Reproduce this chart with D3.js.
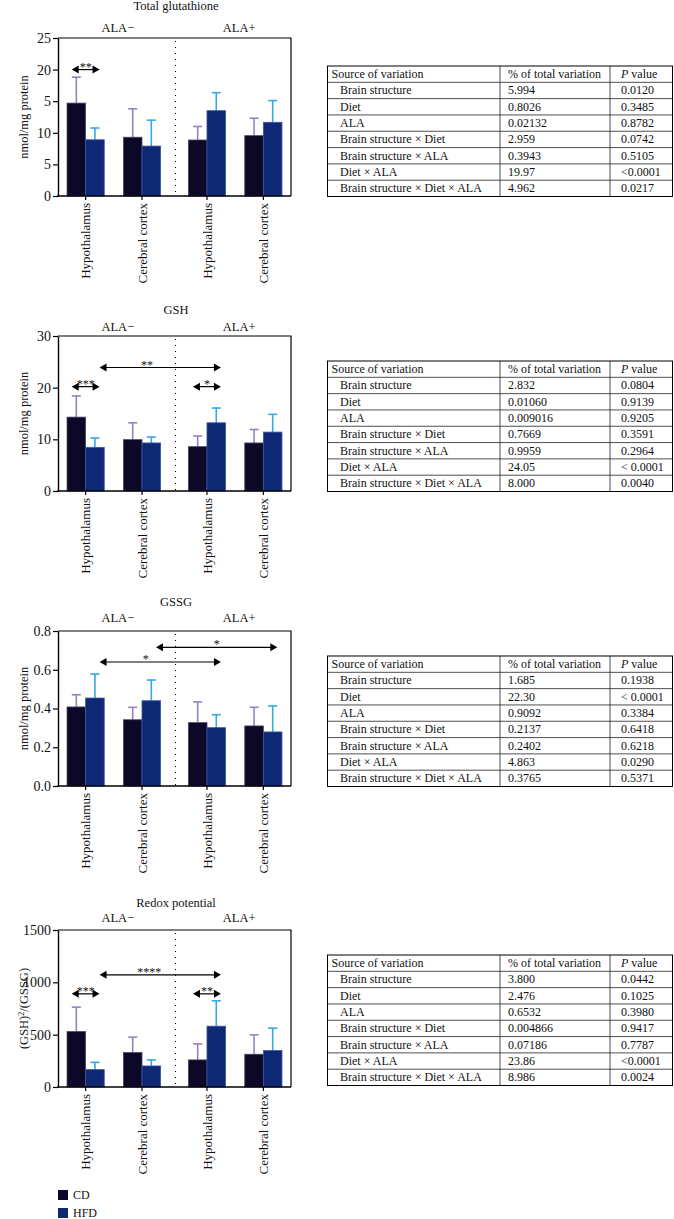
<!DOCTYPE html>
<html><head><meta charset="utf-8">
<script src="https://cdn.jsdelivr.net/npm/d3@7/dist/d3.min.js"></script>
<style>
body{margin:0;background:#fff}
svg{display:block}
text{font-family:"Liberation Serif","Times New Roman",serif;fill:#111}
</style>
</head><body>
<script>
// ---------- data ----------
const sections = ["ALA−", "ALA+"];
const structures = ["Hypothalamus", "Cerebral cortex"];
const series = ["CD", "HFD"];

// Total glutathione
const totalTitle = "Total glutathione";
const totalCD = [14.7, 9.3, 8.86, 9.55];
const totalCDsd = [4.1, 4.5, 2.14, 2.75];
const totalHFD = [8.9, 7.9, 13.5, 11.66];
const totalHFDsd = [1.86, 4.1, 2.85, 3.44];
const totalTicks = [0, 5, 10, 15, 20, 25];
const totalTickLabels = ["0", "5", "10", "5", "20", "25"];
const totalSig = [{from: 0, to: 0, y: 20, stars: "**", at: 0.5}];

// GSH
const gshTitle = "GSH";
const gshCD = [14.3, 9.94, 8.58, 9.3];
const gshCDsd = [4.1, 3.26, 2.07, 2.6];
const gshHFD = [8.45, 9.3, 13.2, 11.4];
const gshHFDsd = [1.81, 1.15, 2.86, 3.44];
const gshTicks = [0, 10, 20, 30];
const gshTickLabels = ["0", "10", "20", "30"];
const gshSig = [
  {from: 0, to: 0, y: 20.2, stars: "***", at: 0.5},
  {from: 0, to: 2, y: 23.9, stars: "**", at: 0.39},
  {from: 2, to: 2, y: 20.2, stars: "*", at: 0.5}
];

// GSSG
const gssgTitle = "GSSG";
const gssgCD = [0.408, 0.342, 0.327, 0.310];
const gssgCDsd = [0.063, 0.064, 0.107, 0.096];
const gssgHFD = [0.454, 0.440, 0.301, 0.279];
const gssgHFDsd = [0.124, 0.107, 0.067, 0.134];
const gssgTicks = [0, 0.2, 0.4, 0.6, 0.8];
const gssgTickLabels = ["0.0", "0.2", "0.4", "0.6", "0.8"];
const gssgSig = [
  {from: 0, to: 2, y: 0.64, stars: "*", at: 0.38},
  {from: 1, to: 3, y: 0.716, stars: "*", at: 0.5}
];

// Redox potential
const redoxTitle = "Redox potential";
const redoxCD = [530, 329, 259, 313];
const redoxCDsd = [233, 147, 153, 185];
const redoxHFD = [166, 201, 581, 348];
const redoxHFDsd = [70, 58, 242, 214];
const redoxTicks = [0, 500, 1000, 1500];
const redoxTickLabels = ["0", "500", "1000", "1500"];
const redoxSig = [
  {from: 0, to: 0, y: 890, stars: "***", at: 0.5},
  {from: 0, to: 2, y: 1072, stars: "****", at: 0.41},
  {from: 2, to: 2, y: 890, stars: "**", at: 0.5}
];

// Tables
const tableHeader = ["Source of variation", "% of total variation", "P value"];
const sources = ["Brain structure", "Diet", "ALA", "Brain structure × Diet", "Brain structure × ALA", "Diet × ALA", "Brain structure × Diet × ALA"];
const totalPct = ["5.994", "0.8026", "0.02132", "2.959", "0.3943", "19.97", "4.962"];
const totalP = ["0.0120", "0.3485", "0.8782", "0.0742", "0.5105", "<0.0001", "0.0217"];
const gshPct = ["2.832", "0.01060", "0.009016", "0.7669", "0.9959", "24.05", "8.000"];
const gshP = ["0.0804", "0.9139", "0.9205", "0.3591", "0.2964", "< 0.0001", "0.0040"];
const gssgPct = ["1.685", "22.30", "0.9092", "0.2137", "0.2402", "4.863", "0.3765"];
const gssgP = ["0.1938", "< 0.0001", "0.3384", "0.6418", "0.6218", "0.0290", "0.5371"];
const redoxPct = ["3.800", "2.476", "0.6532", "0.004866", "0.07186", "23.86", "8.986"];
const redoxP = ["0.0442", "0.1025", "0.3980", "0.9417", "0.7787", "<0.0001", "0.0024"];

// ---------- style / layout ----------
const colors = {CD: "#0c0928", HFD: "#0f2873"};
const strokes = {CD: "#4b4766", HFD: "#3b55a3"};
const errColors = {CD: "#9680bf", HFD: "#36a6ea"};

const W = 674, H = 1219;
const svg = d3.select("body").append("svg").attr("width", W).attr("height", H);

const X0 = 58, X1 = 291;
const outer = d3.scaleBand().domain(sections).range([X0, X1]).paddingInner(0.08).paddingOuter(0);
const inner = d3.scaleBand().domain(structures).range([0, outer.bandwidth()]).paddingInner(0.34).paddingOuter(0.16);
const sub = d3.scaleBand().domain(series).range([0, inner.bandwidth()]);
const groupLeft = i => outer(sections[Math.floor(i / 2)]) + inner(structures[i % 2]);
const groupCenter = i => groupLeft(i) + inner.bandwidth() / 2;
const groupLabels = [0, 1, 2, 3].map(i => structures[i % 2]);

const panels = [
  {title: totalTitle, cd: totalCD, cdSd: totalCDsd, hfd: totalHFD, hfdSd: totalHFDsd, ticks: totalTicks, labels: totalTickLabels, sig: totalSig, ylabel: "nmol/mg protein",
   top: 38, bottom: 196, titleY: 10, alaY: 32},
  {title: gshTitle, cd: gshCD, cdSd: gshCDsd, hfd: gshHFD, hfdSd: gshHFDsd, ticks: gshTicks, labels: gshTickLabels, sig: gshSig, ylabel: "nmol/mg protein",
   top: 336, bottom: 491, titleY: 314, alaY: 331},
  {title: gssgTitle, cd: gssgCD, cdSd: gssgCDsd, hfd: gssgHFD, hfdSd: gssgHFDsd, ticks: gssgTicks, labels: gssgTickLabels, sig: gssgSig, ylabel: "nmol/mg protein",
   top: 631, bottom: 786, titleY: 606, alaY: 622},
  {title: redoxTitle, cd: redoxCD, cdSd: redoxCDsd, hfd: redoxHFD, hfdSd: redoxHFDsd, ticks: redoxTicks, labels: redoxTickLabels, sig: redoxSig, ylabel: "redox",
   top: 930, bottom: 1087, titleY: 907, alaY: 922}
];

panels.forEach(p => {
  const g = svg.append("g");
  const ymax = p.ticks[p.ticks.length - 1];
  const y = d3.scaleLinear().domain([0, ymax]).range([p.bottom, p.top]);

  // titles
  g.append("text").attr("x", 176).attr("y", p.titleY).attr("text-anchor", "middle")
    .style("font-size", "12.5px").text(p.title);
  sections.forEach(s => {
    g.append("text").attr("x", outer(s) + outer.bandwidth() / 2 + 4).attr("y", p.alaY)
      .attr("text-anchor", "middle").style("font-size", "12.5px").text(s);
  });

  // frame (top/right)
  g.append("path").attr("d", `M${X0},${p.top}H${X1}V${p.bottom}`).attr("fill", "none")
    .attr("stroke", "#000").attr("stroke-width", 1.2);

  // dotted separator
  const sepX = (outer(sections[0]) + outer.bandwidth() + outer(sections[1])) / 2 + 1;
  g.append("line").attr("x1", sepX).attr("x2", sepX).attr("y1", p.top + 3).attr("y2", p.bottom)
    .attr("stroke", "#000").attr("stroke-width", 1).attr("stroke-dasharray", "1,5");

  // bars
  const bars = [];
  [0, 1, 2, 3].forEach(i => {
    bars.push({i, s: "CD", v: p.cd[i], sd: p.cdSd[i]});
    bars.push({i, s: "HFD", v: p.hfd[i], sd: p.hfdSd[i]});
  });
  // error bars
  bars.forEach(b => {
    const cx = groupLeft(b.i) + sub(b.s) + sub.bandwidth() / 2;
    g.append("line").attr("x1", cx).attr("x2", cx).attr("y1", y(b.v)).attr("y2", y(b.v + b.sd))
      .attr("stroke", errColors[b.s]).attr("stroke-width", 1.6);
    g.append("line").attr("x1", cx - 4.5).attr("x2", cx + 4.5).attr("y1", y(b.v + b.sd)).attr("y2", y(b.v + b.sd))
      .attr("stroke", errColors[b.s]).attr("stroke-width", 1.6);
  });
  g.selectAll("rect.bar").data(bars).join("rect").attr("class", "bar")
    .attr("x", b => groupLeft(b.i) + sub(b.s))
    .attr("width", sub.bandwidth())
    .attr("y", b => y(b.v))
    .attr("height", b => y(0) - y(b.v))
    .attr("fill", b => colors[b.s])
    .attr("stroke", b => strokes[b.s]).attr("stroke-width", 0.8);

  // y axis
  const ax = g.append("g").attr("transform", `translate(${X0},0)`)
    .call(d3.axisLeft(y).tickValues(p.ticks).tickFormat((d, k) => p.labels[k]).tickSize(5).tickSizeOuter(0));
  ax.select(".domain").attr("stroke", "#000").attr("stroke-width", 1.4);
  ax.selectAll(".tick line").attr("stroke", "#000").attr("stroke-width", 1.2);
  ax.selectAll(".tick text").style("font-family", "Liberation Serif, serif").style("font-size", "14px").attr("fill", "#111").attr("x", -7);

  // x axis
  g.append("line").attr("x1", X0 - 0.7).attr("x2", X1).attr("y1", p.bottom).attr("y2", p.bottom)
    .attr("stroke", "#000").attr("stroke-width", 1.4);
  [0, 1, 2, 3].forEach(i => {
    const cx = groupCenter(i);
    g.append("line").attr("x1", cx).attr("x2", cx).attr("y1", p.bottom).attr("y2", p.bottom + 4)
      .attr("stroke", "#000").attr("stroke-width", 1.2);
    g.append("text").attr("transform", `translate(${cx},${p.bottom + 7}) rotate(-90)`)
      .attr("text-anchor", "end").attr("dy", "0.35em").style("font-size", "13px").text(groupLabels[i]);
  });

  // y label
  const yl = g.append("text").attr("transform", `translate(28,${(p.top + p.bottom) / 2}) rotate(-90)`)
    .attr("text-anchor", "middle").style("font-size", "12.5px");
  if (p.ylabel === "redox") {
    yl.append("tspan").text("(GSH)");
    yl.append("tspan").attr("baseline-shift", "super").style("font-size", "8px").text("2");
    yl.append("tspan").text("/(GSSG)");
  } else {
    yl.text(p.ylabel);
  }

  // significance arrows
  const bw = sub.bandwidth();
  p.sig.forEach(s => {
    let xa, xb;
    if (s.from === s.to) {
      xa = groupCenter(s.from) - bw * 0.75;
      xb = groupCenter(s.to) + bw * 0.75;
    } else {
      xa = groupCenter(s.from) + bw * 0.75;
      xb = groupCenter(s.to) + bw * 0.75;
    }
    const yy = y(s.y);
    const hl = 7, hh = 4;
    g.append("line").attr("x1", xa + hl - 1).attr("x2", xb - hl + 1).attr("y1", yy).attr("y2", yy)
      .attr("stroke", "#000").attr("stroke-width", 1.2);
    g.append("path").attr("d", `M${xa},${yy}L${xa + hl},${yy - hh}L${xa + hl},${yy + hh}Z`).attr("fill", "#000");
    g.append("path").attr("d", `M${xb},${yy}L${xb - hl},${yy - hh}L${xb - hl},${yy + hh}Z`).attr("fill", "#000");
    g.append("text").attr("x", xa + (xb - xa) * s.at).attr("y", yy + 1).attr("text-anchor", "middle")
      .style("font-size", "12px").attr("fill", "#444").text(s.stars);
  });
});

// legend
series.forEach((s, k) => {
  const ly = 1190 + k * 18;
  svg.append("rect").attr("x", 58).attr("y", ly).attr("width", 10).attr("height", 10).attr("fill", colors[s]);
  svg.append("text").attr("x", 73).attr("y", ly + 9).style("font-size", "12px").text(s);
});

// tables
const tables = [
  {pct: totalPct, p: totalP, top: 66, bottom: 196.5},
  {pct: gshPct, p: gshP, top: 361, bottom: 491.5},
  {pct: gssgPct, p: gssgP, top: 656, bottom: 786.5},
  {pct: redoxPct, p: redoxP, top: 955, bottom: 1085.5}
];
const TL = 327.5, TR = 672.5, C1 = 500, C2 = 610;
tables.forEach(t => {
  const g = svg.append("g");
  const rowH = (t.bottom - t.top) / 8;
  const rows = d3.range(8);
  const ry = d3.scaleLinear().domain([0, 8]).range([t.top, t.bottom]);
  rows.slice(1).forEach(r => {
    g.append("line").attr("x1", TL).attr("x2", TR).attr("y1", ry(r)).attr("y2", ry(r))
      .attr("stroke", "#222").attr("stroke-width", 0.8);
  });
  [C1, C2].forEach(cx => g.append("line").attr("x1", cx).attr("x2", cx).attr("y1", t.top).attr("y2", t.bottom)
    .attr("stroke", "#222").attr("stroke-width", 0.8));
  g.append("rect").attr("x", TL).attr("y", t.top).attr("width", TR - TL).attr("height", t.bottom - t.top)
    .attr("fill", "none").attr("stroke", "#000").attr("stroke-width", 1);
  const base = r => ry(r) + rowH / 2 + 4;
  g.append("text").attr("x", 331.5).attr("y", base(0)).style("font-size", "12px").text(tableHeader[0]);
  g.append("text").attr("x", 508).attr("y", base(0)).style("font-size", "12px").text(tableHeader[1]);
  const ph = g.append("text").attr("x", 621).attr("y", base(0)).style("font-size", "12px");
  ph.append("tspan").style("font-style", "italic").text("P");
  ph.append("tspan").text(" value");
  sources.forEach((s, k) => {
    g.append("text").attr("x", 340).attr("y", base(k + 1)).style("font-size", "12px").text(s);
    g.append("text").attr("x", 508).attr("y", base(k + 1)).style("font-size", "12px").text(t.pct[k]);
    g.append("text").attr("x", 621).attr("y", base(k + 1)).style("font-size", "12px").text(t.p[k]);
  });
});
</script>
</body></html>
